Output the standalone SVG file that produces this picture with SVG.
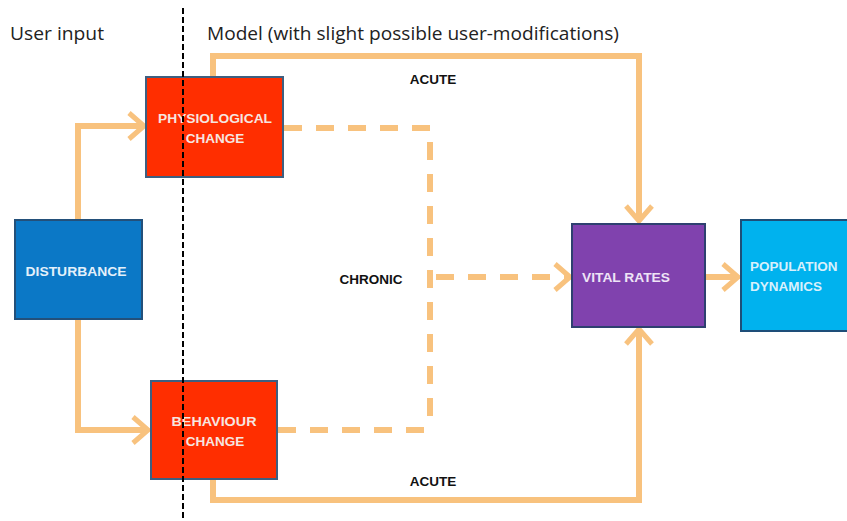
<svg xmlns="http://www.w3.org/2000/svg" width="847" height="521" viewBox="0 0 847 521">
<defs>
<style>
.conn{fill:none;stroke:#F8C27E;stroke-width:6}
.dash{stroke-dasharray:18 14}
.box{stroke-width:2}
.lbl{font-family:"Liberation Sans",Arial,sans-serif;font-weight:bold;font-size:13.5px}
.hdr{font-family:"Open Sans","Liberation Sans",sans-serif;font-size:18px;fill:#222}
</style>
<marker id="ah" viewBox="0 0 20 30" refX="17" refY="15" markerWidth="20" markerHeight="30" markerUnits="userSpaceOnUse" orient="auto">
<path d="M2,2 L17,15 L2,28" fill="none" stroke="#F8C27E" stroke-width="5"/>
</marker>
</defs>
<rect width="847" height="521" fill="#fff"/>
<text class="hdr" x="10" y="40" textLength="94" lengthAdjust="spacingAndGlyphs">User input</text>
<text class="hdr" x="207" y="40" textLength="412" lengthAdjust="spacingAndGlyphs">Model (with slight possible user-modifications)</text>
<g id="connectors">
<path class="conn" d="M78,219 V126 H144" marker-end="url(#ah)"/>
<path class="conn" d="M78,319 V430 H148" marker-end="url(#ah)"/>
<path class="conn" d="M213,77 V56 H639 V221" marker-end="url(#ah)"/>
<path class="conn" d="M213,479 V500 H639 V329" marker-end="url(#ah)"/>
<path class="conn dash" d="M284,128 H430 V430"/>
<path class="conn dash" d="M278,430 H430"/>
<path class="conn dash" d="M436,277 H570" marker-end="url(#ah)"/>
<path class="conn" d="M706,277 H738" marker-end="url(#ah)"/>
<text class="lbl" x="433" y="84" text-anchor="middle" fill="#111">ACUTE</text>
<text class="lbl" x="433" y="486" text-anchor="middle" fill="#111">ACUTE</text>
<text class="lbl" x="371" y="284" text-anchor="middle" fill="#111">CHRONIC</text>
</g>
<g id="physiological">
<rect class="box" x="146" y="77" width="137" height="100" fill="#FF2E00" stroke="#3E5F80"/>
<text class="lbl" x="215" y="123" text-anchor="middle" fill="#F6E6E0" textLength="114" lengthAdjust="spacingAndGlyphs">PHYSIOLOGICAL</text>
<text class="lbl" x="215" y="143" text-anchor="middle" fill="#F6E6E0">CHANGE</text>
</g>
<g id="disturbance">
<rect class="box" x="15" y="220" width="127" height="99" fill="#0B78C6" stroke="#23507A"/>
<text class="lbl" x="76" y="276" text-anchor="middle" fill="#E3F0FA" textLength="101" lengthAdjust="spacingAndGlyphs">DISTURBANCE</text>
</g>
<g id="behaviour">
<rect class="box" x="151" y="381" width="126" height="98" fill="#FF2E00" stroke="#3E5F80"/>
<text class="lbl" x="214" y="426" text-anchor="middle" fill="#F6E6E0" textLength="85" lengthAdjust="spacingAndGlyphs">BEHAVIOUR</text>
<text class="lbl" x="215" y="446" text-anchor="middle" fill="#F6E6E0">CHANGE</text>
</g>
<g id="vital">
<rect class="box" x="572" y="224" width="133" height="103" fill="#8042AE" stroke="#2E4070"/>
<text class="lbl" x="626" y="282" text-anchor="middle" fill="#EEE4F6" textLength="88" lengthAdjust="spacingAndGlyphs">VITAL RATES</text>
</g>
<g id="population">
<rect class="box" x="741" y="220" width="110" height="111" fill="#00B2EE" stroke="#1E4E78"/>
<text class="lbl" x="750" y="271" fill="#D8F0FC">POPULATION</text>
<text class="lbl" x="750" y="291" fill="#D8F0FC">DYNAMICS</text>
</g>
<line x1="183" y1="8" x2="183" y2="521" stroke="#000" stroke-width="2" stroke-dasharray="6 3"/>
</svg>
